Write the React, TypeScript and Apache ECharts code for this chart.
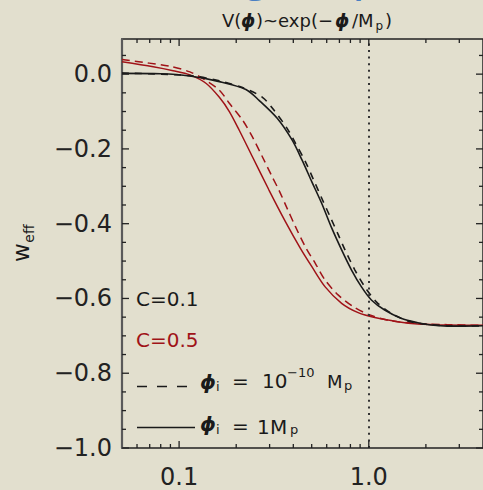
import React, { useEffect, useRef } from 'react';
import * as echarts from 'echarts';

// Axis extents
const X_MIN = 0.05;
const X_MAX = 4.0;
const Y_MIN = -1.0;
const Y_MAX = 0.094;

// C = 0.1, phi_i = 1 Mp (black solid)
const phiBlackSolid = [0.05, 0.08, 0.114, 0.163, 0.225, 0.264, 0.329, 0.394, 0.445, 0.501, 0.565, 0.638, 0.719, 0.811, 0.915, 1.032, 1.212, 1.48, 1.81, 2.12, 2.6, 3.2, 4.0];
const wBlackSolid = [0.002, 0.001, -0.005, -0.02, -0.041, -0.07, -0.118, -0.176, -0.23, -0.288, -0.346, -0.412, -0.47, -0.524, -0.569, -0.604, -0.631, -0.653, -0.665, -0.671, -0.674, -0.674, -0.673];

// C = 0.1, phi_i = 1e-10 Mp (black dashed)
const phiBlackDashed = [0.05, 0.114, 0.163, 0.216, 0.275, 0.316, 0.371, 0.411, 0.463, 0.512, 0.565, 0.625, 0.691, 0.749, 0.845, 0.953, 1.096, 1.313, 1.604, 2.0, 2.6, 3.2, 4.0];
const wBlackDashed = [0.003, -0.004, -0.018, -0.036, -0.062, -0.096, -0.145, -0.185, -0.234, -0.283, -0.332, -0.381, -0.43, -0.47, -0.524, -0.569, -0.609, -0.64, -0.66, -0.669, -0.673, -0.674, -0.673];

// C = 0.5, phi_i = 1 Mp (red solid)
const phiRedSolid = [0.05, 0.073, 0.093, 0.114, 0.139, 0.163, 0.184, 0.2075, 0.2435, 0.2977, 0.364, 0.436, 0.501, 0.589, 0.719, 0.879, 1.075, 1.422, 1.81, 2.6, 4.0];
const wRedSolid = [0.033, 0.0195, 0.009, -0.002, -0.025, -0.062, -0.1, -0.15, -0.221, -0.31, -0.395, -0.466, -0.515, -0.569, -0.613, -0.638, -0.651, -0.662, -0.668, -0.671, -0.672];

// C = 0.5, phi_i = 1e-10 Mp (red dashed)
const phiRedDashed = [0.05, 0.0894, 0.114, 0.1335, 0.163, 0.184, 0.216, 0.2435, 0.2747, 0.3098, 0.3358, 0.3711, 0.4106, 0.463, 0.5223, 0.589, 0.691, 0.828, 1.012, 1.313, 1.81, 2.6, 4.0];
const wRedDashed = [0.039, 0.021, 0.006, -0.012, -0.043, -0.078, -0.123, -0.168, -0.221, -0.275, -0.31, -0.359, -0.408, -0.462, -0.506, -0.551, -0.591, -0.622, -0.644, -0.66, -0.667, -0.67, -0.672];

// Tick positions (IDL-style inward ticks on all four sides)
const xMajorTicks = [0.1, 1.0];
const xMinorTicks = [0.06, 0.07, 0.08, 0.09, 0.2, 0.3, 0.4, 0.5, 0.6, 0.7, 0.8, 0.9, 2, 3];
const yMajorTicks = [-1.0, -0.8, -0.6, -0.4, -0.2, 0.0];
const yMinorTicks = [-0.95, -0.9, -0.85, -0.75, -0.7, -0.65, -0.55, -0.5, -0.45, -0.35, -0.3, -0.25, -0.15, -0.1, -0.05, 0.05];

const FONT = 'DejaVu Sans';
const INK = '#1a1a1a';
const RED = '#a01318';
const BG = '#e2dfce';

const pairs = (xs: number[], ys: number[]) => xs.map((x, i) => [x, ys[i]]);

type TxtOpts = { fill?: string; bold?: boolean; italic?: boolean; align?: string; rotation?: number };
const txt = (x: number, y: number, text: string, size: number, o: TxtOpts = {}) => ({
  type: 'text',
  x,
  y,
  rotation: o.rotation || 0,
  silent: true,
  style: {
    text,
    fill: o.fill || INK,
    fontSize: size,
    fontFamily: FONT,
    fontWeight: o.bold ? 'bold' : 'normal',
    fontStyle: o.italic ? 'italic' : 'normal',
    align: o.align || 'left',
    verticalAlign: 'middle',
    textAlign: o.align || 'left',
    textVerticalAlign: 'middle',
  },
});

const PHI = '\u03D5';

const lineSeries = (name: string, xs: number[], ys: number[], color: string, width: number, dash: any, z: number) => ({
  name,
  type: 'line',
  data: pairs(xs, ys),
  smooth: 0.3,
  showSymbol: false,
  lineStyle: { color, width, type: dash },
  z,
});

export default function App() {
  const ref = useRef<HTMLDivElement>(null);

  useEffect(() => {
    if (!ref.current) return;
    const chart = echarts.init(ref.current, undefined, { renderer: 'svg' });

    const tickStyle = { stroke: '#222', lineWidth: 1.3 };

    const blackSolid: any = lineSeries('C=0.1, 1Mp', phiBlackSolid, wBlackSolid, INK, 1.6, 'solid', 4);
    blackSolid.markLine = {
      silent: true,
      symbol: ['none', 'none'],
      label: { show: false },
      lineStyle: { color: '#333', type: [2, 4.6], width: 2 },
      data: [{ xAxis: 1.0 }],
    };

    const option: any = {
      animation: false,
      backgroundColor: BG,
      grid: {
        left: 122,
        top: 39,
        right: -3,
        bottom: 42,
        show: true,
        borderColor: '#222',
        borderWidth: 1.5,
        backgroundColor: 'transparent',
      },
      xAxis: {
        type: 'log',
        logBase: 10,
        min: X_MIN,
        max: X_MAX,
        axisLine: { show: false },
        axisTick: { show: false },
        splitLine: { show: false },
        axisLabel: {
          showMinLabel: false,
          showMaxLabel: false,
          margin: 19,
          fontSize: 24,
          lineHeight: 20,
          fontFamily: FONT,
          color: '#222',
          formatter: (v: number) => {
            const l = Math.log10(v);
            return Math.abs(l - Math.round(l)) < 1e-6 ? v.toFixed(1) : '';
          },
        },
      },
      yAxis: {
        type: 'value',
        min: Y_MIN,
        max: Y_MAX,
        interval: 0.2,
        axisLine: { show: true, lineStyle: { color: '#5a5a5a', width: 2.2 } },
        axisTick: { show: false },
        splitLine: { show: false },
        axisLabel: {
          showMaxLabel: false,
          margin: 10,
          fontSize: 24,
          fontFamily: FONT,
          color: '#222',
          formatter: (v: number) => {
            if (v > 0.01) return '';
            if (Math.abs(v) < 1e-9) return '0.0';
            return (v < 0 ? '\u2212' : '') + Math.abs(v).toFixed(1);
          },
        },
      },
      series: [
        blackSolid,
        lineSeries('C=0.1, 1e-10Mp', phiBlackDashed, wBlackDashed, INK, 1.6, [7, 6], 4),
        lineSeries('C=0.5, 1Mp', phiRedSolid, wRedSolid, RED, 1.5, 'solid', 3),
        lineSeries('C=0.5, 1e-10Mp', phiRedDashed, wRedDashed, RED, 1.5, [8, 5], 3),
        {
          type: 'custom',
          coordinateSystem: 'cartesian2d',
          silent: true,
          data: [
            ...xMajorTicks.map((v) => [v, Y_MIN, 1]),
            ...xMinorTicks.map((v) => [v, Y_MIN, 0]),
          ],
          encode: { x: 0, y: 1 },
          renderItem: (params: any, api: any) => {
            const v = api.value(0);
            const len = api.value(2) === 1 ? 7 : 4;
            const b = api.coord([v, Y_MIN]);
            const t = api.coord([v, Y_MAX]);
            return {
              type: 'group',
              children: [
                { type: 'line', shape: { x1: b[0], y1: b[1], x2: b[0], y2: b[1] - len }, style: tickStyle },
                { type: 'line', shape: { x1: t[0], y1: t[1], x2: t[0], y2: t[1] + len }, style: tickStyle },
              ],
            };
          },
          z: 5,
        },
        {
          type: 'custom',
          coordinateSystem: 'cartesian2d',
          silent: true,
          data: [
            ...yMajorTicks.map((v) => [X_MIN, v, 1]),
            ...yMinorTicks.map((v) => [X_MIN, v, 0]),
          ],
          encode: { x: 0, y: 1 },
          renderItem: (params: any, api: any) => {
            const v = api.value(1);
            const len = api.value(2) === 1 ? 7 : 4;
            const l = api.coord([X_MIN, v]);
            const r = api.coord([X_MAX, v]);
            return {
              type: 'group',
              children: [
                { type: 'line', shape: { x1: l[0], y1: l[1], x2: l[0] + len, y2: l[1] }, style: tickStyle },
                { type: 'line', shape: { x1: r[0], y1: r[1], x2: r[0] - len, y2: r[1] }, style: tickStyle },
              ],
            };
          },
          z: 5,
        },
      ],
      graphic: [
        // descenders of the slide heading above the plot
        txt(241, -26, 'g', 48, { fill: '#4a80c3' }),
        txt(352, -26, 'p', 48, { fill: '#4a80c3' }),
        // plot title: V(phi)~exp(-phi/Mp)
        txt(222, 20, 'V(', 18),
        txt(241, 20, PHI, 18, { bold: true, italic: true }),
        txt(256, 20, ')~exp(\u2212', 18),
        txt(335, 20, PHI, 18, { bold: true, italic: true }),
        txt(352, 20, '/M', 18),
        txt(375.5, 25.5, 'p', 12),
        txt(385, 20, ')', 18),
        // y-axis name w_eff
        txt(20.5, 252.5, 'w', 23, { rotation: Math.PI / 2, align: 'center' }),
        txt(28.5, 233.5, 'eff', 14, { rotation: Math.PI / 2, align: 'center' }),
        // legend
        txt(136, 299, 'C=0.1', 20),
        txt(136, 340, 'C=0.5', 20, { fill: RED }),
        {
          type: 'line',
          silent: true,
          shape: { x1: 137, y1: 386.5, x2: 187, y2: 386.5 },
          style: { stroke: INK, lineWidth: 1.5, lineDash: [10, 10] },
        },
        txt(200, 381.5, PHI, 20, { bold: true, italic: true }),
        txt(216, 386.5, 'i', 13),
        txt(232, 381, '=', 20),
        txt(262, 380.5, '10', 20),
        txt(287, 372.5, '\u221210', 13),
        txt(327, 381, 'M', 18),
        txt(344, 385.5, 'p', 13),
        {
          type: 'line',
          silent: true,
          shape: { x1: 137, y1: 427.5, x2: 195, y2: 427.5 },
          style: { stroke: INK, lineWidth: 1.5 },
        },
        txt(200, 424, PHI, 20, { bold: true, italic: true }),
        txt(216, 429, 'i', 13),
        txt(232, 425.5, '=', 20),
        txt(257, 426.5, '1', 20),
        txt(270, 426.5, 'M', 20),
        txt(290, 429.3, 'p', 13),
      ],
    };

    chart.setOption(option);
    return () => chart.dispose();
  }, []);

  return (
    <div
      ref={ref}
      style={{ position: 'fixed', left: 0, top: 0, width: 483, height: 490 }}
    />
  );
}
